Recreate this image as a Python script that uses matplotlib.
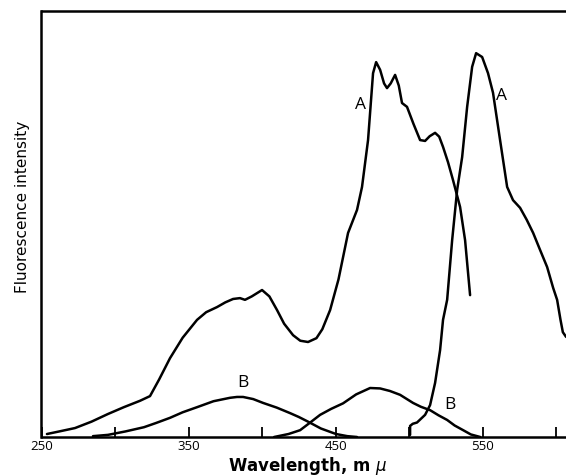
import matplotlib.pyplot as plt

plt.rcParams['font.family'] = ['Open Sans', 'DejaVu Sans']

# 激发光谱 A（左）
exc_a_nm = [253.7, 262, 272.8, 284, 295.2, 306, 317, 323.8, 330, 337.4, 346, 355.8,
            362, 369.4, 375, 380.3, 385, 388.4, 393, 400, 405, 410.2, 415, 421.1,
            426, 431.3, 437, 441, 446.3, 452, 458.5, 464.6, 468, 472.1, 475.5,
            477.6, 480.3, 483, 485, 487.5, 490.5, 493, 495.2, 498.6, 503, 507.5,
            510.9, 514, 517.7, 520.5, 523.1, 526.5, 529.9, 534.7, 538.1, 541.5]
exc_a_i = [0.7, 1.3, 2.1, 3.6, 5.4, 7.0, 8.5, 9.6, 13.5, 18.5, 23.3, 27.5,
           29.3, 30.5, 31.6, 32.4, 32.6, 32.2, 33.0, 34.5, 33.0, 29.8, 26.6, 23.9,
           22.6, 22.3, 23.2, 25.3, 29.8, 37.0, 47.9, 53.3, 58.7, 69.7, 85.4,
           88.0, 86.2, 83.0, 81.9, 83.0, 85.0, 82.5, 78.4, 77.5, 73.5, 69.7,
           69.5, 70.6, 71.4, 70.5, 68.1, 64.5, 60.3, 54.0, 46.2, 33.3]

# 荧光光谱 A（右）
emi_a_nm = [500.7, 500.7, 502.5, 505.4, 510.9, 514.3, 517.7, 521.1, 523.1, 525.9,
            529.3, 532.7, 536.1, 539.5, 542.9, 545.6, 549.7, 553.7, 557.1, 561.9,
            566.7, 570.7, 575.5, 580, 584.4, 589, 593.9, 598, 600.7, 603, 604.6, 606.8]
emi_a_i = [0.5, 2.6, 3.1, 3.4, 5.2, 7.5, 12.7, 20.4, 27.5, 32.2,
           46.2, 58.0, 65.7, 77.5, 86.9, 90.1, 89.2, 85.4, 80.8, 69.7,
           58.7, 55.6, 53.8, 51.0, 47.9, 44.0, 39.9, 35.0, 32.2, 27.5, 24.6, 23.5]

# 激发光谱 B（左）
exc_b_nm = [285, 295.2, 307, 319.7, 328, 337.4, 346, 355.8, 367, 378.2, 383,
            387.1, 394, 400.7, 410, 419.1, 425, 431.3, 440, 450.3, 458, 464.6]
exc_b_i = [0.2, 0.5, 1.3, 2.3, 3.3, 4.5, 5.8, 7.0, 8.4, 9.2, 9.4,
           9.4, 8.9, 8.0, 6.9, 5.6, 4.7, 3.6, 2.0, 0.7, 0.2, 0.0]

# 荧光光谱 B（右）
emi_b_nm = [408.2, 418, 425.9, 432, 439.5, 447, 455.1, 464, 473.5, 480.3,
            487, 493.9, 502.7, 508, 514.3, 520, 525.9, 531, 536.8, 542, 548.4]
emi_b_i = [0.0, 0.7, 1.6, 3.2, 5.2, 6.6, 7.9, 10.0, 11.5, 11.4,
           10.8, 9.9, 8.0, 7.1, 6.3, 5.1, 4.0, 2.7, 1.6, 0.6, 0.0]

tick_pos = [250, 300, 350, 400, 450, 500, 550, 600]
tick_lbl = ["250", "", "350", "", "450", "", "550", ""]

fig = plt.figure(figsize=(5.66, 4.76), dpi=100)
ax = fig.add_axes([41.5 / 566, 39 / 476, 544 / 566, 426 / 476])

kw = dict(color="black", linewidth=1.8, solid_joinstyle="round", solid_capstyle="round")
ax.plot(exc_a_nm, exc_a_i, **kw)
ax.plot(emi_a_nm, emi_a_i, **kw)
ax.plot(exc_b_nm, exc_b_i, **kw)
ax.plot(emi_b_nm, emi_b_i, **kw)

lab = dict(fontsize=12.5, ha="center", va="center")
ax.text(466.8, 78, "A", **lab)
ax.text(563.1, 80, "A", **lab)
ax.text(387, 12.7, "B", **lab)
ax.text(527.9, 7.5, "B", **lab)

ax.set_xlim(250, 620)
ax.set_ylim(0, 100)
ax.set_xticks(tick_pos)
ax.set_xticklabels(tick_lbl)
ax.set_yticks([])
ax.tick_params(axis="x", direction="in", length=7, width=1.3, pad=2.5, labelsize=9.5)
for s in ["left", "bottom", "top"]:
    ax.spines[s].set_linewidth(1.8)
ax.spines["right"].set_visible(False)

ax.set_xlabel("Wavelength, m $\\mu$", fontsize=12, fontweight="bold",
              family=["DejaVu Sans"])
ax.xaxis.set_label_coords(0.49, -0.042)
ax.set_ylabel("Fluorescence intensity", fontsize=11, family=["DejaVu Sans"])
ax.yaxis.set_label_coords(-0.022, 0.54)

fig.savefig("out.png", dpi=100)
